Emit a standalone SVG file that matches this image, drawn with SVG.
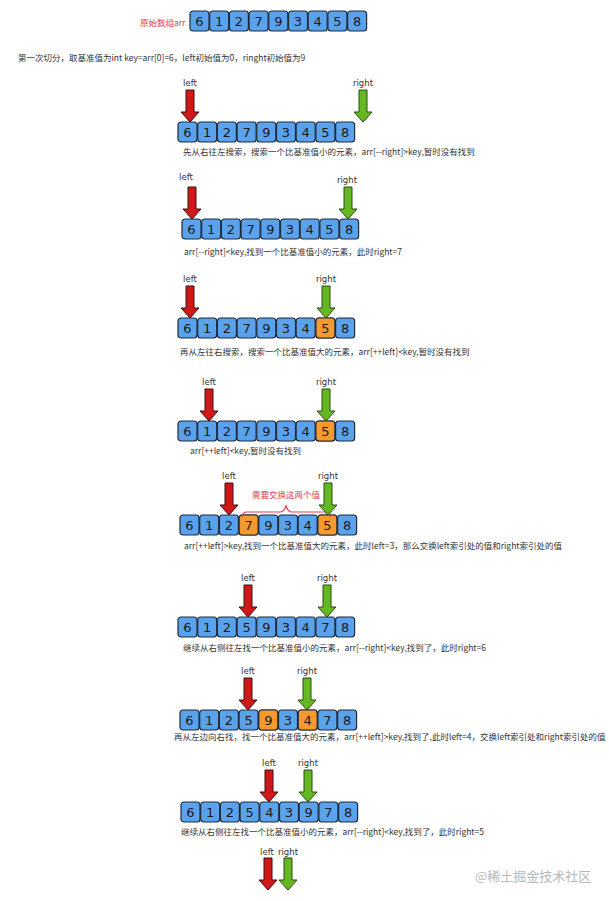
<svg xmlns="http://www.w3.org/2000/svg" xmlns:xlink="http://www.w3.org/1999/xlink" width="609" height="901" viewBox="0 0 609 901">
<style>
.c{fill:#5aa2ec;stroke:#1f2a3a;stroke-width:1.2}
.o{fill:#f79a2e;stroke:#1f2a3a;stroke-width:1.2}
.n{font-family:"DejaVu Sans",sans-serif;font-size:13px;fill:#1a1a1a;text-anchor:middle}
.t{font-family:"Noto Sans CJK SC",sans-serif;font-size:8.5px;fill:#333}
.l{font-family:"DejaVu Sans",sans-serif;font-size:8.5px;fill:#333;text-anchor:middle}
.r{fill:#d11818;stroke:#3a1010;stroke-width:1}
.g{fill:#66b822;stroke:#2a4a10;stroke-width:1}
</style>
<defs>
<path id="ar" d="M-4,0 h8 v22 h5 l-9,10 l-9,-10 h5 z"/>
<g id="cells">
<rect class="c" x="0" y="0" width="19" height="20" rx="3"/><rect class="c" x="19.7" y="0" width="19" height="20" rx="3"/><rect class="c" x="39.4" y="0" width="19" height="20" rx="3"/><rect class="c" x="59.1" y="0" width="19" height="20" rx="3"/><rect class="c" x="78.8" y="0" width="19" height="20" rx="3"/><rect class="c" x="98.5" y="0" width="19" height="20" rx="3"/><rect class="c" x="118.2" y="0" width="19" height="20" rx="3"/><rect class="c" x="137.9" y="0" width="19" height="20" rx="3"/><rect class="c" x="157.6" y="0" width="19" height="20" rx="3"/>
</g>
<g id="v0"><text class="n" x="9.5" y="15">6</text><text class="n" x="29.2" y="15">1</text><text class="n" x="48.9" y="15">2</text><text class="n" x="68.6" y="15">7</text><text class="n" x="88.3" y="15">9</text><text class="n" x="108" y="15">3</text><text class="n" x="127.7" y="15">4</text><text class="n" x="147.4" y="15">5</text><text class="n" x="167.1" y="15">8</text></g>
<g id="v1"><text class="n" x="9.5" y="15">6</text><text class="n" x="29.2" y="15">1</text><text class="n" x="48.9" y="15">2</text><text class="n" x="68.6" y="15">5</text><text class="n" x="88.3" y="15">9</text><text class="n" x="108" y="15">3</text><text class="n" x="127.7" y="15">4</text><text class="n" x="147.4" y="15">7</text><text class="n" x="167.1" y="15">8</text></g>
<g id="v2"><text class="n" x="9.5" y="15">6</text><text class="n" x="29.2" y="15">1</text><text class="n" x="48.9" y="15">2</text><text class="n" x="68.6" y="15">5</text><text class="n" x="88.3" y="15">4</text><text class="n" x="108" y="15">3</text><text class="n" x="127.7" y="15">9</text><text class="n" x="147.4" y="15">7</text><text class="n" x="167.1" y="15">8</text></g>
</defs>

<g id="original">
<text x="140" y="26" style="font-family:'Noto Sans CJK SC',sans-serif;font-size:8.5px;fill:#e04050">原始数组arr</text>
<g transform="translate(190,11)"><use href="#cells"/><use href="#v0"/></g>
</g>
<text class="t" x="18" y="61">第一次切分，取基准值为int key=arr[0]=6，left初始值为0，ringht初始值为9</text>

<g id="step1" transform="translate(178,122)">
<use href="#cells"/><use href="#v0"/>
<use href="#ar" class="r" x="12" y="-32"/><text class="l" x="12" y="-36">left</text>
<use href="#ar" class="g" x="185" y="-32"/><text class="l" x="185" y="-36">right</text>
<text class="t" x="5" y="33">先从右往左搜索，搜索一个比基准值小的元素，arr[--right]&gt;key,暂时没有找到</text>
</g>

<g id="step2" transform="translate(182,219)">
<use href="#cells"/><use href="#v0"/>
<use href="#ar" class="r" x="10" y="-32"/><text class="l" x="4" y="-39">left</text>
<use href="#ar" class="g" x="166" y="-32"/><text class="l" x="165" y="-36">right</text>
<text class="t" x="2" y="36">arr[--right]&lt;key,找到一个比基准值小的元素，此时right=7</text>
</g>

<g id="step3" transform="translate(178,318)">
<use href="#cells"/><rect class="o" x="137.9" y="0" width="19" height="20" rx="3"/><use href="#v0"/>
<use href="#ar" class="r" x="12" y="-32"/><text class="l" x="12" y="-36">left</text>
<use href="#ar" class="g" x="148" y="-32"/><text class="l" x="148" y="-36">right</text>
<text class="t" x="2" y="37">再从左往右搜索，搜索一个比基准值大的元素，arr[++left]&lt;key,暂时没有找到</text>
</g>

<g id="step4" transform="translate(178,421)">
<use href="#cells"/><rect class="o" x="137.9" y="0" width="19" height="20" rx="3"/><use href="#v0"/>
<use href="#ar" class="r" x="31" y="-32"/><text class="l" x="31" y="-36">left</text>
<use href="#ar" class="g" x="148" y="-32"/><text class="l" x="148" y="-36">right</text>
<text class="t" x="12" y="33">arr[++left]&lt;key,暂时没有找到</text>
</g>

<g id="step5" transform="translate(180,515)">
<use href="#cells"/><rect class="o" x="59.1" y="0" width="19" height="20" rx="3"/><rect class="o" x="137.9" y="0" width="19" height="20" rx="3"/><use href="#v0"/>
<path d="M62,2 q0,-5 5,-5 h33 q4,0 6,-6 q2,6 6,6 h33 q5,0 5,5" fill="none" stroke="#e04050" stroke-width="1.2"/>
<text x="72" y="-17" style="font-family:'Noto Sans CJK SC',sans-serif;font-size:8.5px;fill:#e04050">需要交换这两个值</text>
<use href="#ar" class="r" x="49" y="-32"/><text class="l" x="49" y="-36">left</text>
<use href="#ar" class="g" x="148" y="-32"/><text class="l" x="148" y="-36">right</text>
<text class="t" x="4" y="34">arr[++left]&gt;key,找到一个比基准值大的元素，此时left=3，那么交换left索引处的值和right索引处的值</text>
</g>

<g id="step6" transform="translate(178,617)">
<use href="#cells"/><use href="#v1"/>
<use href="#ar" class="r" x="70" y="-32"/><text class="l" x="70" y="-36">left</text>
<use href="#ar" class="g" x="149" y="-32"/><text class="l" x="149" y="-36">right</text>
<text class="t" x="5" y="34">继续从右侧往左找一个比基准值小的元素，arr[--right]&lt;key,找到了，此时right=6</text>
</g>

<g id="step7" transform="translate(180,710)">
<use href="#cells"/><rect class="o" x="78.8" y="0" width="19" height="20" rx="3"/><rect class="o" x="118.2" y="0" width="19" height="20" rx="3"/><use href="#v1"/>
<use href="#ar" class="r" x="68" y="-32"/><text class="l" x="68" y="-36">left</text>
<use href="#ar" class="g" x="127" y="-32"/><text class="l" x="127" y="-36">right</text>
<text class="t" x="-6" y="30">再从左边向右找，找一个比基准值大的元素，arr[++left]&gt;key,找到了,此时left=4，交换left索引处和right索引处的值</text>
</g>

<g id="step8" transform="translate(181,802)">
<use href="#cells"/><use href="#v2"/>
<use href="#ar" class="r" x="88" y="-32"/><text class="l" x="88" y="-36">left</text>
<use href="#ar" class="g" x="127" y="-32"/><text class="l" x="127" y="-36">right</text>
<text class="t" x="0" y="33">继续从右侧往左找一个比基准值小的元素，arr[--right]&lt;key,找到了，此时right=5</text>
</g>

<g id="step9">
<use href="#ar" class="r" x="268" y="858"/><text class="l" x="267" y="855">left</text>
<use href="#ar" class="g" x="288" y="858"/><text class="l" x="288" y="855">right</text>
</g>

<text x="475" y="881" style="font-family:'Noto Sans CJK SC',sans-serif;font-size:13px;fill:#b8b8b8">@稀土掘金技术社区</text>
</svg>
